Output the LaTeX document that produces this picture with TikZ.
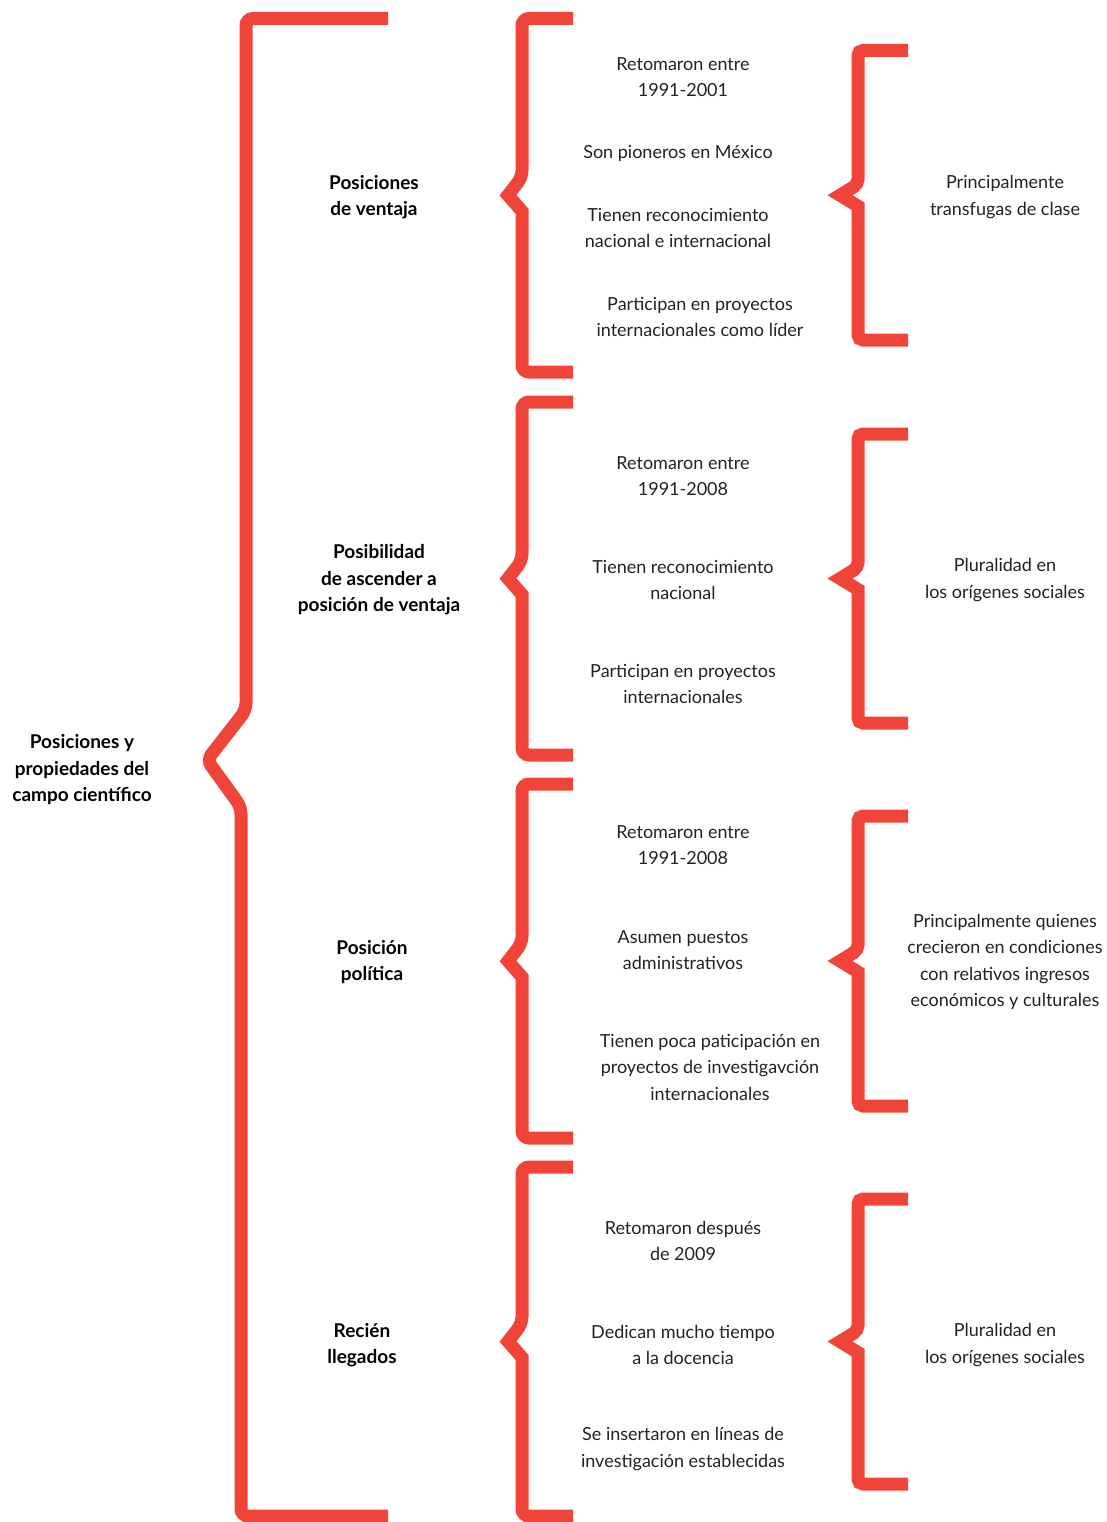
\documentclass[tikz,border=0pt]{standalone}
\usepackage{fontspec}
\setmainfont{Lato}
\usepackage{xcolor}
\usepackage{tikz}

\definecolor{bracered}{HTML}{F04438}
\definecolor{textgray}{HTML}{222222}

\begin{document}
\begin{tikzpicture}[x=1pt, y=-1pt,
    every node/.style={font=\fontsize{18}{26.5}\selectfont, text=textgray},
    brace/.style={draw=bracered, line width=13pt, rounded corners=7pt},
    item/.style={align=center, inner sep=0pt},
    head/.style={align=center, inner sep=0pt, font=\fontsize{19}{26.5}\selectfont\bfseries, text=black}]
    \useasboundingbox (0,0) rectangle (1107,1522);

    % Main brace
    \draw[brace] (388,18.5) -- (246,18.5) -- (246,710) -- (207,760) -- (241,807) -- (241,1516) -- (388,1516);
    \node[head] (root) at (82,770) {Posiciones y\\propiedades del\\campo científico};

    % Column braces: top / bottom
    \foreach \t/\b in {18.5/372, 402/755, 784/1138, 1167/1516}{
        \pgfmathsetmacro{\m}{(\t+\b)/2}
        \draw[brace] (573,\t) -- (522,\t) -- (522,\m-18) [sharp corners] -- (508,\m) -- (522,\m+16) [rounded corners=7pt] -- (522,\b) -- (573,\b);
        \draw[brace, rounded corners=5pt] (908,\t+32) -- (858,\t+32) -- (858,\m-11) [sharp corners] -- (840,\m) -- (858,\m+11) [rounded corners=5pt] -- (858,\b-32) -- (908,\b-32);
    }

    % Posiciones de ventaja
    \node[head] (ventaja) at (374,197) {Posiciones\\de ventaja};
    \node[item] (v1) at (683,77) {Retomaron entre\\1991-2001};
    \node[item] (v2) at (678,153) {Son pioneros en México};
    \node[item] (v3) at (678,228) {Tienen reconocimiento\\nacional e internacional};
    \node[item] (v4) at (700,317) {Participan en proyectos\\internacionales como líder};
    \node[item] (vr) at (1005,197) {Principalmente\\transfugas de clase};

    % Posibilidad de ascender
    \node[head] (ascender) at (379,580) {Posibilidad\\de ascender a\\posición de ventaja};
    \node[item] (a1) at (683,476) {Retomaron entre\\1991-2008};
    \node[item] (a2) at (683,580) {Tienen reconocimiento\\nacional};
    \node[item] (a3) at (683,684) {Participan en proyectos\\internacionales};
    \node[item] (ar) at (1005,580) {Pluralidad en\\los orígenes sociales};

    % Posicion politica
    \node[head] (politica) at (372,962) {Posición\\política};
    \node[item] (p1) at (683,845) {Retomaron entre\\1991-2008};
    \node[item] (p2) at (683,950) {Asumen puestos\\administrativos};
    \node[item] (p3) at (710,1067) {Tienen poca paticipación en\\proyectos de investigavción\\internacionales};
    \node[item] (pr) at (1005,962) {Principalmente quienes\\crecieron en condiciones\\con relativos ingresos\\económicos y culturales};

    % Recien llegados
    \node[head] (llegados) at (362,1345) {Recién\\llegados};
    \node[item] (l1) at (683,1241) {Retomaron después\\de 2009};
    \node[item] (l2) at (683,1345) {Dedican mucho tiempo\\a la docencia};
    \node[item] (l3) at (683,1449) {Se insertaron en líneas de\\investigación establecidas};
    \node[item] (lr) at (1005,1345) {Pluralidad en\\los orígenes sociales};
\end{tikzpicture}
\end{document}
